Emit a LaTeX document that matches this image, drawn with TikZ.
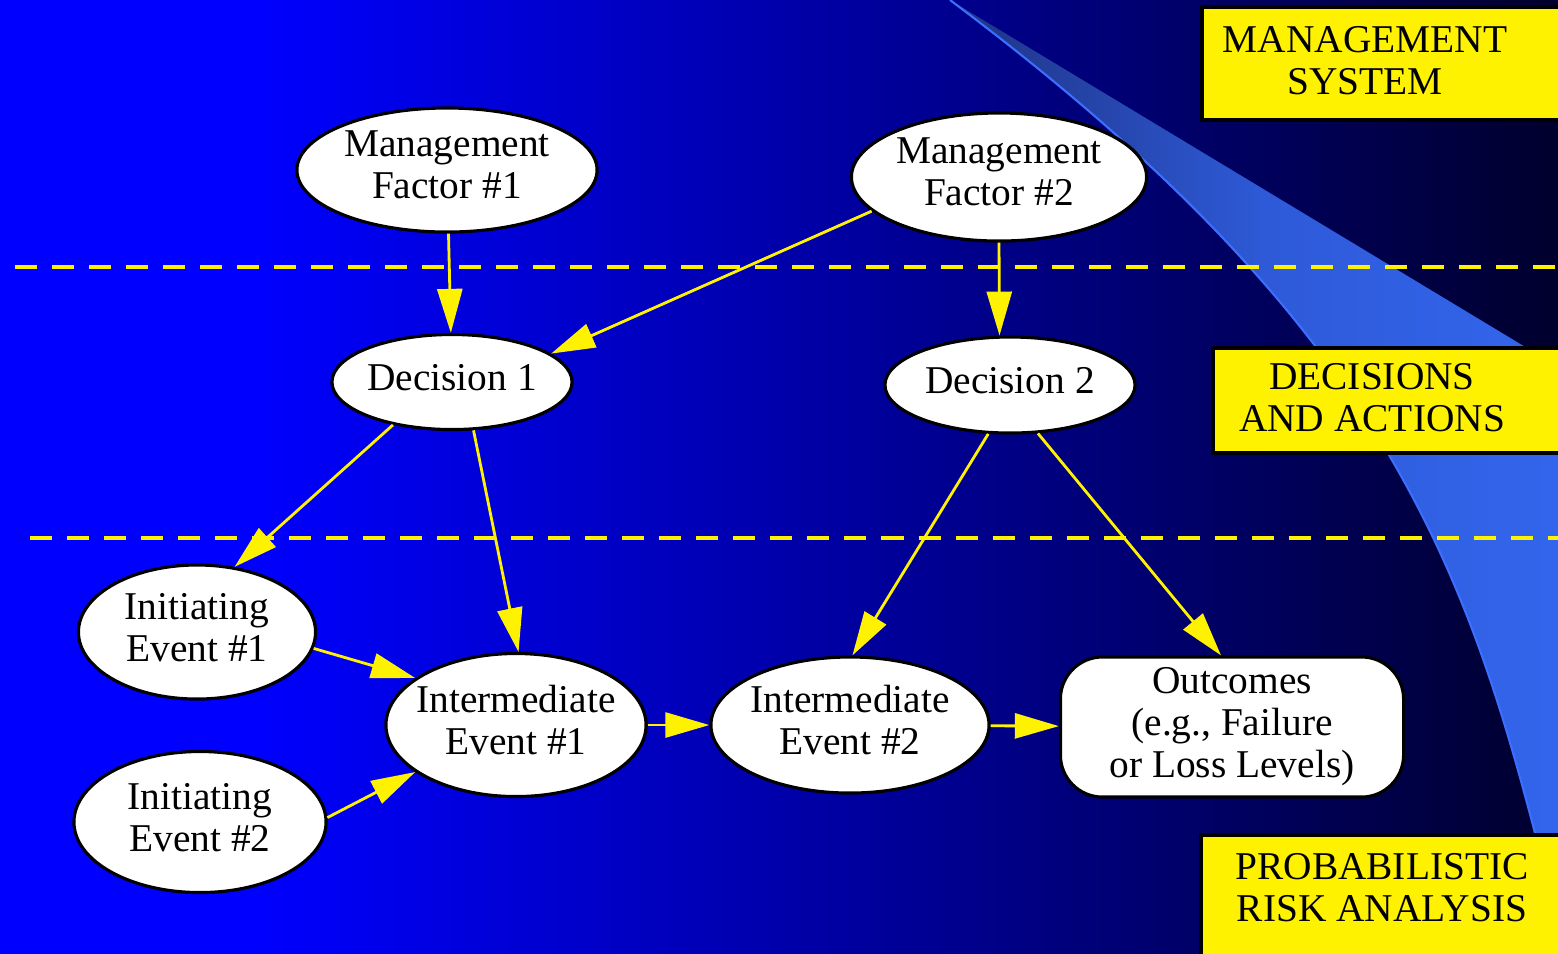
\documentclass[tikz,border=0pt]{standalone}
\usepackage{fontspec}
\setmainfont{Liberation Serif}
\usetikzlibrary{shapes.geometric,arrows.meta}
\definecolor{bgleft}{RGB}{0,0,255}
\definecolor{bgright}{RGB}{0,0,45}
\definecolor{swdark}{RGB}{30,50,130}
\definecolor{swmid}{RGB}{46,90,216}
\definecolor{swlight}{RGB}{51,102,238}
\definecolor{swedge}{RGB}{60,110,255}
\begin{document}
\begin{tikzpicture}[x=0.01cm,y=-0.01cm]
\tikzset{% This is the style settings for nodes
        evt/.style={ellipse,draw=black,fill=white,line width=0.9pt,inner xsep=-0.12cm,inner ysep=-0.1cm,text depth=0.1cm,align=center,font=\fontsize{11.2}{11.95}\selectfont},
        outc/.style={rectangle,rounded corners=0.42cm,draw=black,fill=white,line width=0.9pt,inner sep=2pt,align=center,font=\fontsize{11.2}{11.95}\selectfont},
        ybox/.style={rectangle,draw=black,fill=yellow,line width=1pt,anchor=north west},
        ylbl/.style={align=center,font=\fontsize{11.2}{11.95}\selectfont},
        arr/.style={-{Triangle[length=0.44cm,width=0.25cm]},yellow,line width=0.8pt},
        sepline/.style={yellow,line width=1.4pt,dash pattern=on 0.22cm off 0.15cm},
        }
        % Background
        \useasboundingbox (0,0) rectangle (1558,953);
        \clip (0,0) rectangle (1558,953);
        \shade[left color=bgleft,right color=bgright,middle color=bgleft] (-1050,0) rectangle (1558,953);
        \shade[left color=swdark,right color=swlight,middle color=swmid] (950,0) -- (1580,380) -- (1580,960) -- (1572,960) -- (1552,900)
        .. controls (1472,580) and (1400,337) .. (950,0) -- cycle;
        \draw[swedge,line width=0.6pt] (950,0) .. controls (1400,337) and (1472,580) .. (1552,900);
        % Separators
        \coordinate (s1a) at (15,267); \coordinate (s1b) at (1558,267);
        \coordinate (s2a) at (30,538); \coordinate (s2b) at (1558,538);
        \draw[sepline] (s1a) -- (s1b); \draw[sepline] (s2a) -- (s2b);
        % Nodes
        \node[evt,minimum width=3cm,minimum height=1.24cm] (mf1) at (447,170) {Management\\Factor \#1};
        \node[evt,minimum width=2.95cm,minimum height=1.28cm] (mf2) at (999,177) {Management\\Factor \#2};
        \node[evt,minimum width=2.4cm,minimum height=0.95cm] (d1) at (452,382) {Decision 1};
        \node[evt,minimum width=2.5cm,minimum height=0.96cm] (d2) at (1010,385) {Decision 2};
        \node[evt,minimum width=2.37cm,minimum height=1.34cm] (ie1) at (197,632) {Initiating\\Event \#1};
        \node[evt,minimum width=2.52cm,minimum height=1.41cm] (ie2) at (200,822) {Initiating\\Event \#2};
        \node[evt,minimum width=2.6cm,minimum height=1.43cm] (im1) at (516,725) {Intermediate\\Event \#1};
        \node[evt,minimum width=2.78cm,minimum height=1.36cm] (im2) at (850,725) {Intermediate\\Event \#2};
        \node[outc,minimum width=3.43cm,minimum height=1.4cm] (out) at (1232,727) {Outcomes\\(e.g., Failure\\or Loss Levels)};
        % Level boxes
        \node[ybox,minimum width=3.8cm,minimum height=1.13cm] (msbox) at (1200,5) {};
        \node[ylbl] (mstxt) at (1365,61) {MANAGEMENT\\SYSTEM};
        \node[ybox,minimum width=3.7cm,minimum height=1.05cm] (dabox) at (1211,346) {};
        \node[ylbl] (datxt) at (1372,398) {DECISIONS\\AND ACTIONS};
        \node[ybox,minimum width=3.8cm,minimum height=1.3cm] (prbox) at (1199,833) {};
        \node[ylbl] (prtxt) at (1382,888) {PROBABILISTIC\\RISK ANALYSIS};
        %Edges
        \draw[arr] (mf1) -- (d1); \draw[arr] (mf2.195) -- (d1.16); \draw[arr] (mf2.south) -- (d2.102);
        \draw[arr] (d1.216) -- (ie1.60); \draw[arr] (d1.294) -- (im1.88);
        \draw[arr] (d2.246) -- (im2.88); \draw[arr] (d2.300) -- ([xshift=-0.11cm]out.north);
        \draw[arr] (ie1.352) -- (im1.155); \draw[arr] (ie2.2) -- (im1.205);
        \draw[arr] (im1) -- (im2); \draw[arr] (im2) -- (out);
\end{tikzpicture}
\end{document}
